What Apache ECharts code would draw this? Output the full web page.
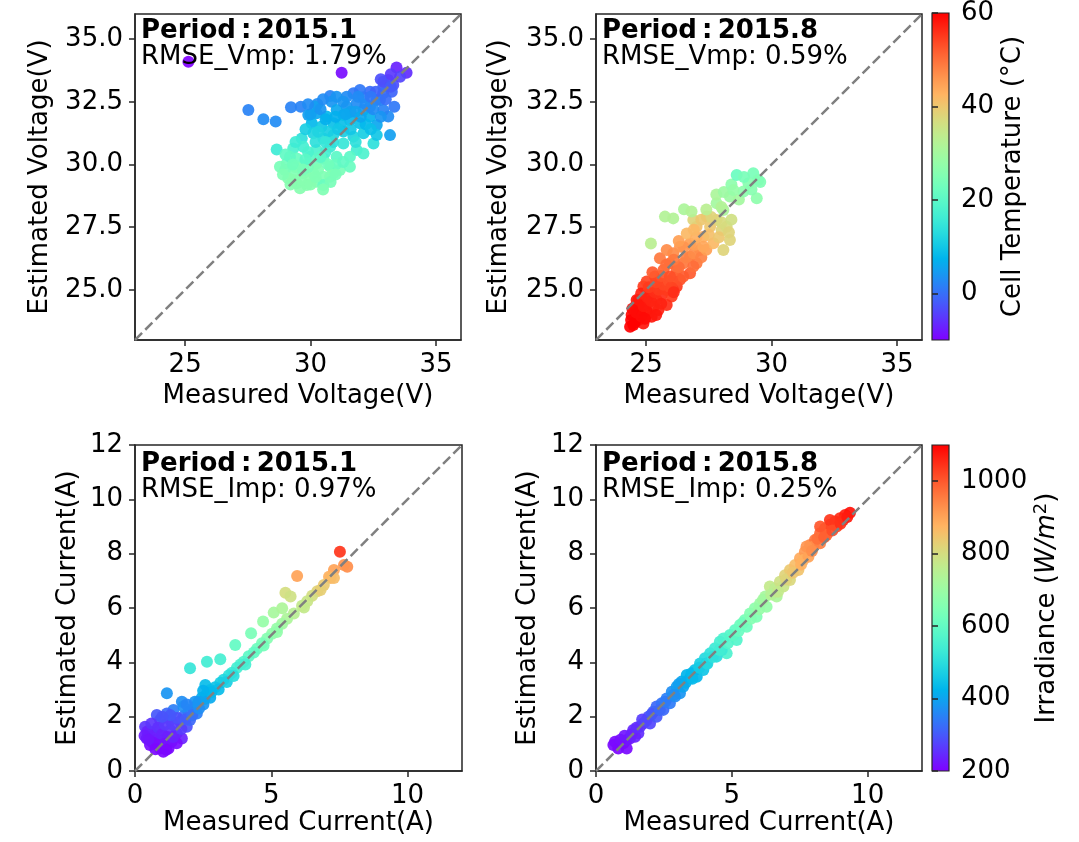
<!DOCTYPE html>
<html><head><meta charset="utf-8">
<script src="https://cdn.jsdelivr.net/npm/echarts/dist/echarts.min.js"></script>
<style>html,body{margin:0;padding:0;background:#fff}#c{width:1079px;height:842px}</style>
</head><body><div id="c"></div><script>
// ---------- DATA: [measured, estimated, colour value] ----------
const voltJan = [
[25.13,34.10,-10],[31.24,33.66,-9],[33.43,33.87,-7],[33.83,33.66,-6],[27.52,32.17,2],[28.12,31.80,3],[28.61,31.71,3],
[29.22,32.28,2],[29.61,32.30,2],[30.27,32.41,3],[30.78,32.73,2],[30.84,32.50,4],[31.71,32.84,1],[32.11,32.68,2],
[32.37,32.90,0],[32.90,33.10,-1],[33.10,33.37,-2],[33.30,33.17,-3],[32.90,32.84,0],[32.64,32.57,1],[33.34,32.30,1],
[33.10,31.91,3],[33.17,31.17,5],[32.64,31.57,6],[32.11,32.17,4],[31.84,32.44,3],[31.44,32.30,4],[31.31,31.97,6],
[31.04,32.17,6],[30.64,31.91,8],[30.24,32.04,6],[29.91,31.97,5],[30.05,31.64,8],[30.44,31.51,10],[30.91,31.64,9],
[31.57,31.77,8],[31.97,31.64,9],[32.37,31.91,7],[32.11,31.24,11],[31.71,31.11,12],[31.31,31.31,11],[30.91,31.17,12],
[30.51,31.04,13],[30.11,31.24,12],[29.65,31.04,14],[28.65,30.60,16],[29.31,30.64,18],[29.71,30.71,17],[30.24,30.58,18],
[30.78,30.71,16],[31.31,30.84,15],[31.84,30.58,17],[31.57,30.31,20],[31.04,30.31,20],[30.51,30.24,21],[29.98,30.31,20],
[29.45,30.24,22],[29.05,30.04,23],[29.18,30.31,21],[29.71,29.97,23],[30.24,30.04,23],[30.78,29.91,24],[31.17,29.78,24],
[30.91,29.65,25],[30.51,29.51,25],[30.11,29.65,25],[29.71,29.65,25],[29.31,29.71,25],[28.98,29.78,24],[29.11,29.45,26],
[29.45,29.25,26],[29.85,29.18,26],[30.24,29.31,25],[30.51,29.18,22],[29.58,29.05,26],[29.31,29.38,26],[29.98,29.45,26],
[30.78,29.51,25],[28.78,29.91,24],[31.57,29.91,22],[32.11,30.44,18],[32.51,30.84,14],[32.64,31.17,10],[32.90,32.17,2],
[32.37,32.30,3],[33.57,33.50,-4],[33.24,32.90,-1],[32.77,32.57,2],[31.97,32.97,1],[31.44,32.70,3],[31.04,32.70,4],
[30.18,32.30,5],[32.50,32.20,3],[31.60,32.10,5],[32.80,31.90,4],[33.00,32.60,0],[32.20,31.60,8],[31.20,31.60,9],
[30.70,31.30,11],[30.20,30.90,14],[29.90,30.50,18],[30.60,30.50,17],[31.00,30.00,22],[29.60,29.40,26],[30.30,29.80,25],
[29.40,29.90,25],[29.90,29.90,24],[30.00,29.20,26],
[30.00,32.00,5],[30.40,32.20,4],[30.60,31.80,7],[31.00,31.90,7],[31.40,32.00,6],[31.80,32.10,5],[32.20,32.40,3],
[32.60,32.90,-1],[32.90,33.30,-3],[33.20,33.60,-5],[32.80,33.40,-3],[33.20,33.10,-2],[32.40,32.70,1],[31.90,32.70,3],
[31.30,32.50,4],[30.50,32.60,3],[29.90,32.40,3],[31.10,31.40,10],[31.60,31.40,10],[32.00,31.90,6],[32.40,31.40,9],
[31.80,30.90,14],[30.90,30.90,14],[30.30,31.30,12],[29.80,31.40,11],[30.60,30.90,15],[29.40,30.90,16],[29.80,30.20,20],
[29.30,30.00,23],[28.90,29.60,25],[29.20,29.20,26],[30.70,30.00,23],[31.30,30.10,21],[30.40,30.30,20],[29.70,29.80,24],
[30.20,29.50,25],[30.80,29.30,24],[31.00,29.60,24],[29.00,30.40,21],[30.50,29.00,25]
];
const voltAug = [
[24.49,23.60,60],[24.69,23.80,59],[24.42,24.00,59],[24.89,23.66,58],[24.75,24.14,58],[24.56,24.33,58],[25.09,24.07,57],
[25.29,24.33,57],[24.95,24.53,57],[25.42,24.60,56],[25.62,24.79,56],[25.15,24.86,56],[24.89,25.13,55],[25.82,24.99,55],
[26.02,24.73,55],[26.22,25.13,55],[25.55,25.26,54],[25.35,25.53,53],[25.02,25.33,54],[24.62,24.60,58],[24.36,23.53,60],
[25.22,23.93,58],[25.49,24.20,57],[25.82,24.40,56],[26.08,24.99,55],[24.70,24.40,58],[25.00,24.20,58],
[24.40,23.80,60],[24.55,23.70,60],[24.60,24.10,59],[24.80,23.95,59],[24.45,24.25,59],[24.70,24.60,58],[24.90,24.35,58],
[25.05,24.70,57],[24.80,24.85,57],[25.20,24.55,57],[25.35,24.90,56],[25.10,25.10,55],[25.50,25.00,55],[25.70,25.20,54],
[25.40,25.30,54],[25.90,25.35,53],[26.10,25.50,52],[25.60,25.55,53],[25.25,25.70,52],[26.35,25.40,53],[26.00,25.10,54],
[24.95,23.85,59],[25.40,24.00,58],[25.60,24.45,57],[26.10,24.90,56],
[25.69,25.79,51],[25.95,26.06,50],[26.22,25.79,51],[26.48,26.06,49],[26.75,26.32,48],[27.01,26.06,49],[25.55,26.26,49],
[26.08,26.46,47],[26.35,26.72,46],[26.75,26.85,45],[27.15,26.59,46],[26.48,25.53,52],[26.75,25.66,52],[25.95,25.53,53],
[26.88,25.93,50],[25.82,26.59,47],
[26.30,25.90,50],[26.60,26.30,48],[26.90,26.45,47],[27.20,26.30,48],[26.10,26.20,49],[26.50,26.70,46],[26.95,26.80,45],
[27.40,26.60,45],[25.80,26.00,50],[26.30,26.95,45],
[26.62,27.25,42],[27.01,27.52,41],[27.28,27.12,43],[27.55,27.52,40],[27.81,27.79,39],[27.41,27.92,38],[26.88,27.79,38],
[28.08,26.59,38],[28.34,26.99,38],[28.01,27.39,38],[27.68,26.86,42],[27.28,26.72,44],[28.21,27.52,37],
[27.00,27.10,43],[27.50,27.20,41],[27.90,27.10,40],[28.30,27.30,38],[26.90,27.40,42],[27.20,27.80,40],[27.60,27.90,38],
[28.00,27.70,37],[28.40,27.80,36],
[25.19,26.85,33],[25.75,27.92,32],[26.08,27.85,32],[26.51,28.21,31],[26.81,28.12,32],[27.81,28.45,30],[28.08,28.18,31],
[28.34,28.72,29],[27.80,28.80,31],[28.10,28.90,29],[28.40,29.20,27],[28.00,28.30,32],[27.40,28.20,33],[28.70,28.60,30],
[28.61,29.58,22],[29.27,29.65,24],[29.47,29.38,25],[29.08,29.25,26],[29.41,28.65,27],[28.88,28.92,27],[28.48,28.98,28],
[28.90,29.50,24],[29.20,29.00,26],[29.55,29.30,25]
];
const currJan = [
[7.52,8.07,1040],[7.79,7.52,930],[7.67,7.58,920],[7.30,7.40,900],[7.12,7.15,880],[5.95,7.18,900],[5.52,6.56,800],
[5.71,6.42,790],[5.09,5.83,720],[5.40,5.99,730],[4.70,5.50,690],[4.26,5.07,640],[3.68,4.64,600],[3.13,4.11,550],
[2.64,4.02,540],[2.02,3.78,520],[1.17,2.86,380],
[7.18,7.10,870],[6.93,6.85,840],[6.69,6.62,820],[6.50,6.45,800],[6.32,6.25,780],[6.13,6.08,770],[5.83,5.80,750],
[5.58,5.60,730],[5.40,5.42,710],[5.21,5.25,690],[5.03,5.05,680],[4.85,4.88,660],[4.66,4.70,640],[4.48,4.50,620],
[4.36,4.36,600],[4.17,4.22,590],[3.99,4.02,570],[3.87,3.92,560],[3.74,3.80,550],[3.56,3.62,530],[3.44,3.52,510],
[3.25,3.36,490],[3.13,3.25,470],[2.94,3.08,450],[2.76,2.98,440],[2.64,2.85,420],[2.45,2.70,410],[2.33,2.55,400],
[2.27,2.42,380],[2.15,2.30,360],[1.96,2.18,350],[1.78,2.02,330],
[1.72,2.55,370],[1.41,2.25,350],[1.17,2.12,320],[0.80,2.06,300],[0.92,1.88,290],[1.29,1.88,300],[1.66,1.82,300],
[1.90,1.63,290],[0.37,1.63,260],[0.55,1.45,250],[0.92,1.51,250],[1.29,1.51,255],[1.53,1.39,250],[1.72,1.20,240],
[0.43,1.20,230],[0.74,1.14,225],[1.04,1.14,225],[1.35,1.08,220],[0.55,0.96,215],[0.92,0.83,210],[1.23,0.83,210],
[1.04,0.71,205],[1.53,1.02,215],[1.78,2.37,370],[2.58,3.17,440],
[2.02,1.88,320],[2.27,2.12,350],[2.51,2.45,380],[2.76,2.70,410],[3.07,3.00,440],[3.37,3.28,470],[3.62,3.50,500],
[4.05,3.92,550],[4.72,4.62,630],[5.21,5.12,680],[6.20,6.02,770],[6.81,6.66,830],[7.30,7.10,860],
[0.45,1.45,240],[0.60,1.75,260],[0.70,1.30,235],[0.85,1.60,255],[1.00,1.35,240],[1.10,1.70,265],[1.20,1.25,235],
[1.40,1.70,270],[1.55,1.95,290],[1.30,2.05,300],[1.00,2.00,295],[0.65,1.05,215],[0.85,0.95,212],[1.10,1.00,220],
[1.40,1.25,240],[1.70,1.55,270],[1.85,1.90,305],[2.10,2.05,330],[2.35,2.30,370],[2.55,2.65,400],[2.80,2.90,430],
[2.20,2.55,380],[1.90,2.45,360],[2.50,2.95,420],[0.35,1.30,230],[0.50,1.15,225],[0.75,0.80,208],[1.15,0.78,208]
];
const currAug = [
[0.64,0.96,210],[0.82,0.83,205],[1.01,1.02,215],[1.13,0.83,210],[1.25,1.20,230],[1.37,1.51,245],[1.56,1.39,250],
[1.74,1.75,270],[1.93,2.00,290],[2.11,2.18,305],[2.23,2.37,320],[2.42,2.49,335],[2.60,2.67,350],[2.79,2.92,370],
[2.97,3.10,390],[3.15,3.29,405],[3.34,3.53,425],[3.46,3.41,420],[3.64,3.72,445],[3.83,3.96,470],[4.01,4.15,490],
[4.20,4.33,510],[4.38,4.52,530],[4.56,4.76,550],[4.69,4.88,560],[4.81,4.33,560],[4.93,5.01,575],[5.12,5.19,595],
[5.30,5.37,615],[5.48,5.56,635],[5.67,5.80,655],[5.85,5.99,675],[6.04,6.17,695],[6.23,6.42,720],[6.40,6.79,770],
[6.59,6.72,760],[6.77,6.97,790],[6.96,7.21,820],[7.14,7.40,840],[7.33,7.58,860],[7.51,7.83,890],[7.69,8.07,915],
[7.88,8.32,940],[8.06,8.50,960],[8.25,8.75,985],[8.43,8.93,1005],[8.61,9.06,1020],[8.80,9.18,1035],[8.98,9.30,1050],
[9.17,9.42,1065],[9.35,9.51,1080],
[0.70,1.08,210],[1.13,1.14,225],[1.44,1.26,240],[1.62,1.63,260],[1.99,1.75,280],[2.23,2.00,300],[2.48,2.25,320],
[2.72,2.49,345],[2.91,2.74,365],[3.09,2.86,380],[3.21,3.10,400],[3.52,3.60,430],[3.71,3.47,430],[3.95,3.72,455],
[4.07,3.96,475],[4.44,4.21,500],[4.63,4.45,530],[5.18,4.82,570],[5.55,5.31,620],[5.91,5.68,650],[6.28,6.05,690],
[6.65,6.42,730],[6.90,6.79,780],[7.14,7.03,810],[7.45,7.40,850],[7.63,7.77,880],[7.82,7.89,900],[8.00,8.26,930],
[8.25,8.38,950],[8.49,8.69,985],[8.86,9.00,1020],[8.61,9.24,1040],[9.10,9.24,1050],[8.25,9.00,1000],[7.75,8.26,920],
[0.90,1.15,215],[1.05,1.30,225],[1.30,1.35,235],[1.50,1.60,250],[1.70,1.90,270],[1.85,1.85,280],[2.05,2.10,300],
[2.35,2.25,320],[2.55,2.55,345],[2.85,2.80,370],[3.05,3.20,395],[3.30,3.25,415],[3.55,3.40,435],[3.80,3.80,465],
[4.10,3.95,490],[4.30,4.20,510],[4.55,4.45,540],[4.85,4.70,570],[5.05,5.00,590],[5.25,5.15,610],[5.40,5.45,625],
[5.70,5.60,655],[6.00,5.95,690],[6.15,6.30,710],[6.45,6.50,745],[6.70,6.60,770],[7.00,7.05,815],[7.25,7.30,845],
[7.55,7.60,880],[7.95,8.10,930],[8.15,8.55,970],[8.40,8.60,990],[8.70,8.85,1015],[9.00,9.10,1045],[9.25,9.35,1070]
];
const voltRange = [23, 36];
const currRange = [0, 12];
const voltTicksX = [25, 30, 35];
const voltTicksY = [25, 27.5, 30, 32.5, 35];
const currTicks = [0, 5, 10];
const currTicksY = [0, 2, 4, 6, 8, 10, 12];
const tempRange = [-10, 60];
const tempTicks = [0, 20, 40, 60];
const irrRange = [200, 1100];
const irrTicks = [200, 400, 600, 800, 1000];
const periods = ['Period\u2009:\u20092015.1', 'Period\u2009:\u20092015.8', 'Period\u2009:\u20092015.1', 'Period\u2009:\u20092015.8'];
const rmse = ['RMSE_Vmp: 1.79%', 'RMSE_Vmp: 0.59%', 'RMSE_Imp: 0.97%', 'RMSE_Imp: 0.25%'];

// ---------- STYLE ----------
const FONT = 'DejaVu Sans';
const FS = 26;
const AX = '#262626';
function rainbow(t){
  const r = Math.min(1, Math.abs(2*t - 0.5)), g = Math.sin(Math.PI*t), b = Math.cos(Math.PI*t/2);
  return 'rgb(' + Math.round(r*255) + ',' + Math.round(g*255) + ',' + Math.round(Math.max(0,b)*255) + ')';
}
const stops = [];
for (let i = 0; i <= 24; i++) stops.push(rainbow(i/24));
const gradient = {type:'linear', x:0, y:1, x2:0, y2:0,
  colorStops: stops.map((c,i)=>({offset:i/(stops.length-1), color:c}))};

const grids = [
  {left:135, top:14, width:326, height:326},
  {left:596, top:14, width:326, height:326},
  {left:135, top:445, width:327, height:326},
  {left:596, top:445, width:326, height:326}
];
const gridOpts = grids.map(g => Object.assign({show:true, borderColor:AX, borderWidth:1.5, backgroundColor:'#fff'}, g));
gridOpts.push({left:932, top:13, width:17, height:327, show:true, borderColor:AX, borderWidth:1.2, backgroundColor:gradient});
gridOpts.push({left:932, top:445, width:17, height:326, show:true, borderColor:AX, borderWidth:1.2, backgroundColor:gradient});

const txt = {fontSize:FS, color:'#000', fontFamily:FONT};
function axis(gi, range, ticks, fmt, name, gap, extra){
  return Object.assign({
    type:'value', gridIndex:gi, min:range[0], max:range[1],
    axisLine:{show:true, lineStyle:{color:AX, width:1.5}},
    splitLine:{show:false},
    axisTick:{show:true, length:6, lineStyle:{color:AX, width:1.5}, customValues:ticks},
    axisLabel:Object.assign({customValues:ticks, margin:12, formatter:fmt}, txt),
    name:name, nameLocation:'middle', nameGap:gap, nameTextStyle:Object.assign({}, txt)
  }, extra || {});
}
const f0 = v => String(Math.round(v));
const f1 = v => v.toFixed(1);

const xAxes = [
  axis(0, voltRange, voltTicksX, f0, 'Measured Voltage(V)', 43),
  axis(1, voltRange, voltTicksX, f0, 'Measured Voltage(V)', 43),
  axis(2, currRange, currTicks, f0, 'Measured Current(A)', 36),
  axis(3, currRange, currTicks, f0, 'Measured Current(A)', 36),
  {type:'value', gridIndex:4, show:false, min:0, max:1},
  {type:'value', gridIndex:5, show:false, min:0, max:1}
];
const yAxes = [
  axis(0, voltRange, voltTicksY, f1, 'Estimated Voltage(V)', 82, {nameRotate:90}),
  axis(1, voltRange, voltTicksY, f1, 'Estimated Voltage(V)', 84, {nameRotate:90}),
  axis(2, currRange, currTicksY, f0, 'Estimated Current(A)', 54, {nameRotate:90}),
  axis(3, currRange, currTicksY, f0, 'Estimated Current(A)', 55, {nameRotate:90}),
  axis(4, tempRange, tempTicks, f0, 'Cell Temperature (°C)', 51, {position:'right', nameRotate:90, axisLine:{show:false}}),
  axis(5, irrRange, irrTicks, f0, 'Irradiance ({i|W/m}{s|2})', 83, {position:'right', nameRotate:90, axisLine:{show:false},
     nameTextStyle:Object.assign({}, txt, {lineHeight:30, rich:{
       i:{fontSize:FS, fontStyle:'italic', fontFamily:FONT, color:'#000', lineHeight:30},
       s:{fontSize:18, fontFamily:FONT, color:'#000', verticalAlign:'top', lineHeight:18}
     }})})
];

const datasets = [voltJan, voltAug, currJan, currAug];
const ranges = [voltRange, voltRange, currRange, currRange];
const series = [];
datasets.forEach((d, i) => {
  series.push({type:'scatter', xAxisIndex:i, yAxisIndex:i, data:d, symbolSize:12,
    itemStyle:{opacity:0.92}, silent:true, z:2});
});
datasets.forEach((d, i) => {
  series.push({type:'line', xAxisIndex:i, yAxisIndex:i,
    data:[[ranges[i][0], ranges[i][0]], [ranges[i][1], ranges[i][1]]],
    symbol:'none', silent:true, z:5,
    lineStyle:{color:'#808080', width:2.5, type:[10, 4.5]}});
});

const graphic = [];
grids.forEach((g, i) => {
  const dy = i < 2 ? 0 : 2;
  graphic.push({type:'text', left:g.left+6, top:g.top+4+dy, z:10,
    style:{text:periods[i], font:'bold ' + FS + 'px "DejaVu Sans"', fill:'#000'}});
  graphic.push({type:'text', left:g.left+6, top:g.top+30+dy, z:10,
    style:{text:rmse[i], font:FS + 'px "DejaVu Sans"', fill:'#000'}});
});

const chart = echarts.init(document.getElementById('c'), null, {renderer:'canvas'});
chart.setOption({
  animation:false,
  backgroundColor:'#fff',
  grid:gridOpts,
  xAxis:xAxes,
  yAxis:yAxes,
  visualMap:[
    {type:'continuous', show:false, seriesIndex:[0,1], dimension:2, min:tempRange[0], max:tempRange[1], inRange:{color:stops}},
    {type:'continuous', show:false, seriesIndex:[2,3], dimension:2, min:irrRange[0], max:irrRange[1], inRange:{color:stops}}
  ],
  series:series,
  graphic:graphic
});
</script></body></html>
